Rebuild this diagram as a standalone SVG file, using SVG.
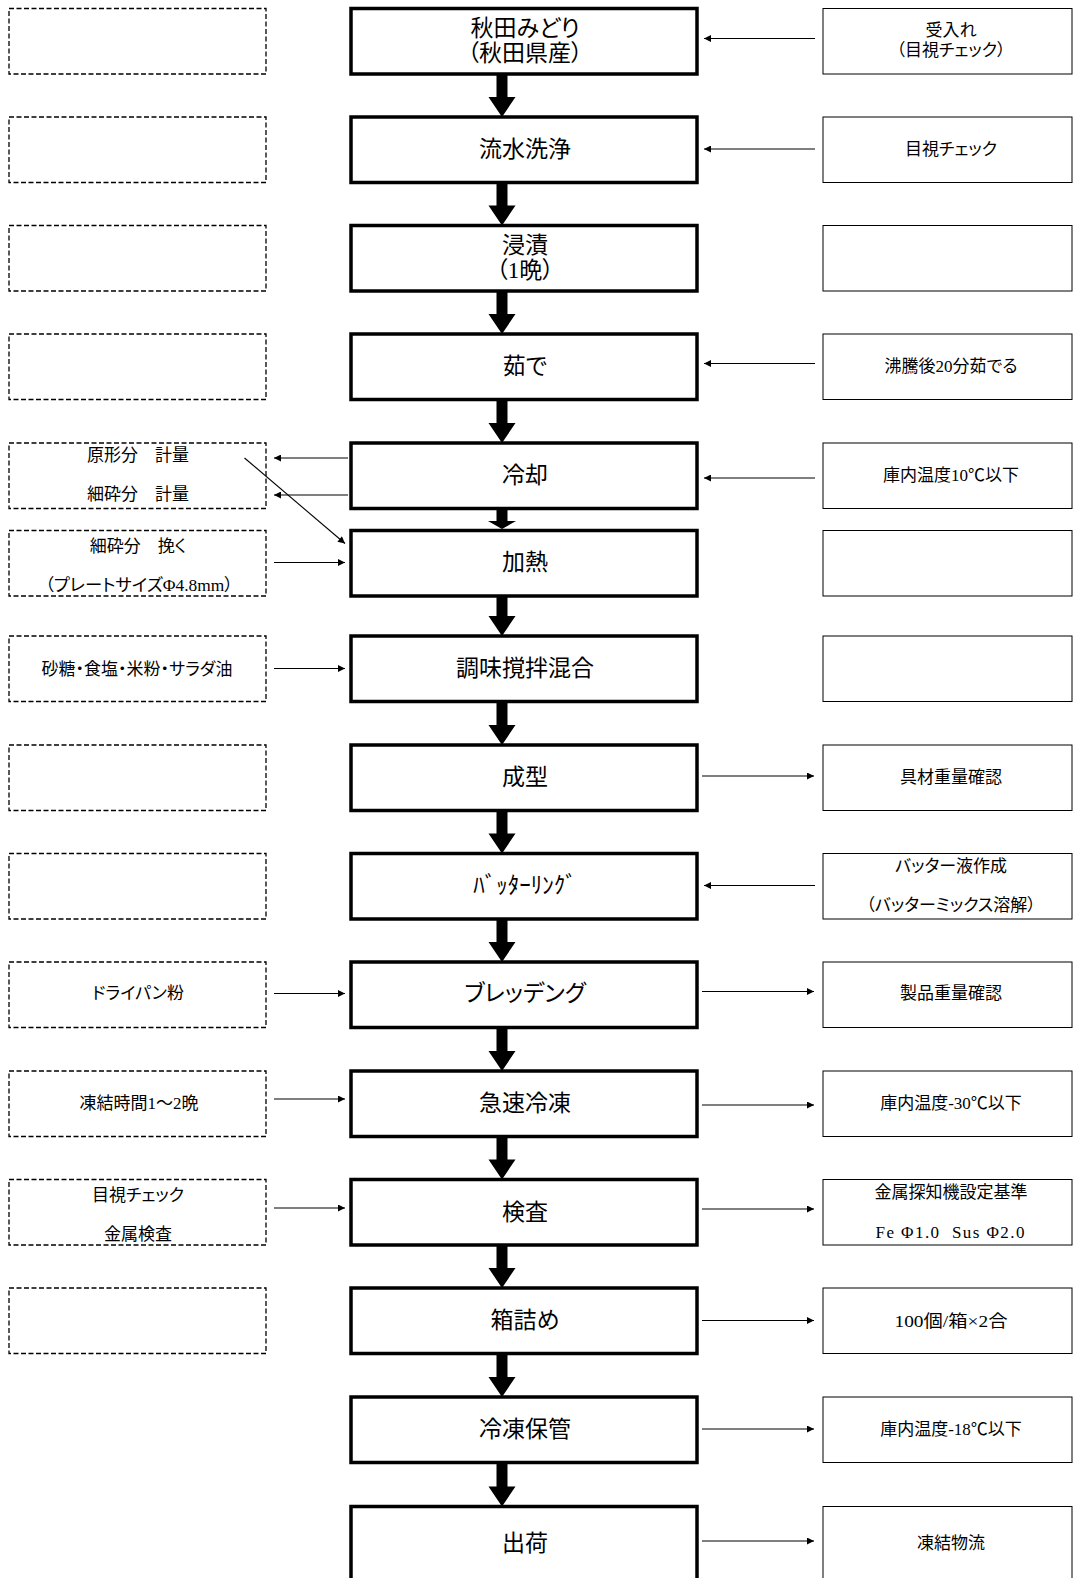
<svg xmlns="http://www.w3.org/2000/svg" width="1073" height="1578" viewBox="0 0 1073 1578">
<style>
text{font-family:"Liberation Serif","Noto Sans CJK JP",serif;fill:#000;text-anchor:middle;dominant-baseline:central;font-feature-settings:"palt"}
.m{font-size:23px}
.s{font-size:17px}
.mb{fill:#fff;stroke:#000;stroke-width:3.5}
.db{fill:#fff;stroke:#000;stroke-width:1.3;stroke-dasharray:5 2.5}
.rb{fill:#fff;stroke:#000;stroke-width:1}
.c line{stroke:#000;stroke-width:1.1;marker-end:url(#ah)}
.c polygon{fill:#000}
</style>
<defs>
<marker id="ah" viewBox="0 0 10 10" refX="10" refY="5" markerWidth="8" markerHeight="7" markerUnits="userSpaceOnUse" orient="auto"><path d="M0,0 L10,5 L0,10 z" fill="#000"/></marker>
</defs>
<rect width="1073" height="1578" fill="#fff"/>

<!-- left dashed boxes -->
<g id="left">
<g id="L1"><rect class="db" x="9" y="8.5" width="257" height="65.5"/></g>
<g id="L2"><rect class="db" x="9" y="117" width="257" height="65.5"/></g>
<g id="L3"><rect class="db" x="9" y="225.5" width="257" height="65.5"/></g>
<g id="L4"><rect class="db" x="9" y="334" width="257" height="65.5"/></g>
<g id="L5"><rect class="db" x="9" y="443" width="257" height="65.5"/><text class="s" x="138" y="455">原形分　計量</text><text class="s" x="138" y="494">細砕分　計量</text></g>
<g id="L6"><rect class="db" x="9" y="530.5" width="257" height="65.5"/><text class="s" x="138" y="546.5">細砕分　挽く</text><text class="s" x="139" y="585" textLength="188" lengthAdjust="spacingAndGlyphs">（プレートサイズΦ4.8mm）</text></g>
<g id="L7"><rect class="db" x="9" y="636" width="257" height="65.5"/><text class="s" x="137" y="669">砂糖・食塩・米粉・サラダ油</text></g>
<g id="L8"><rect class="db" x="9" y="745" width="257" height="65.5"/></g>
<g id="L9"><rect class="db" x="9" y="853.5" width="257" height="65.5"/></g>
<g id="L10"><rect class="db" x="9" y="962" width="257" height="65.5"/><text class="s" x="138" y="993">ドライパン粉</text></g>
<g id="L11"><rect class="db" x="9" y="1071" width="257" height="65.5"/><text class="s" x="139" y="1103">凍結時間1～2晩</text></g>
<g id="L12"><rect class="db" x="9" y="1179.5" width="257" height="65.5"/><text class="s" x="138" y="1195">目視チェック</text><text class="s" x="138" y="1234">金属検査</text></g>
<g id="L13"><rect class="db" x="9" y="1288" width="257" height="65.5"/></g>
</g>

<!-- main process boxes -->
<g id="main">
<g id="M1"><rect class="mb" x="351" y="8.5" width="346" height="65.5"/><text class="m" x="525" y="28">秋田みどり</text><text class="m" x="525" y="53.5">（秋田県産）</text></g>
<g id="M2"><rect class="mb" x="351" y="117" width="346" height="65.5"/><text class="m" x="525" y="149">流水洗浄</text></g>
<g id="M3"><rect class="mb" x="351" y="225.5" width="346" height="65.5"/><text class="m" x="525" y="245.5">浸漬</text><text class="m" x="525" y="270.5">（1晩）</text></g>
<g id="M4"><rect class="mb" x="351" y="334" width="346" height="65.5"/><text class="m" x="525" y="366.5">茹で</text></g>
<g id="M5"><rect class="mb" x="351" y="443" width="346" height="65.5"/><text class="m" x="525" y="475">冷却</text></g>
<g id="M6"><rect class="mb" x="351" y="530.5" width="346" height="65.5"/><text class="m" x="525" y="562.5">加熱</text></g>
<g id="M7"><rect class="mb" x="351" y="636" width="346" height="65.5"/><text class="m" x="525" y="668.5">調味撹拌混合</text></g>
<g id="M8"><rect class="mb" x="351" y="745" width="346" height="65.5"/><text class="m" x="525" y="777">成型</text></g>
<g id="M9"><rect class="mb" x="351" y="853.5" width="346" height="65.5"/><text class="m" x="525" y="885.5">ﾊﾞｯﾀｰﾘﾝｸﾞ</text></g>
<g id="M10"><rect class="mb" x="351" y="962" width="346" height="65.5"/><text class="m" x="525" y="993.5">ブレッデング</text></g>
<g id="M11"><rect class="mb" x="351" y="1071" width="346" height="65.5"/><text class="m" x="525" y="1103">急速冷凍</text></g>
<g id="M12"><rect class="mb" x="351" y="1179.5" width="346" height="65.5"/><text class="m" x="525" y="1212">検査</text></g>
<g id="M13"><rect class="mb" x="351" y="1288" width="346" height="65.5"/><text class="m" x="525" y="1320.5">箱詰め</text></g>
<g id="M14"><rect class="mb" x="351" y="1397" width="346" height="65.5"/><text class="m" x="525" y="1429">冷凍保管</text></g>
<g id="M15"><rect class="mb" x="351" y="1506.5" width="346" height="85"/><text class="m" x="525" y="1543">出荷</text></g>
</g>

<!-- right boxes -->
<g id="right">
<g id="R1"><rect class="rb" x="823" y="8.5" width="249" height="65.5"/><text class="s" x="951" y="30">受入れ</text><text class="s" x="951" y="50.5">（目視チェック）</text></g>
<g id="R2"><rect class="rb" x="823" y="117" width="249" height="65.5"/><text class="s" x="951" y="149">目視チェック</text></g>
<g id="R3"><rect class="rb" x="823" y="225.5" width="249" height="65.5"/></g>
<g id="R4"><rect class="rb" x="823" y="334" width="249" height="65.5"/><text class="s" x="951" y="366.5">沸騰後20分茹でる</text></g>
<g id="R5"><rect class="rb" x="823" y="443" width="249" height="65.5"/><text class="s" x="951" y="475">庫内温度10℃以下</text></g>
<g id="R6"><rect class="rb" x="823" y="530.5" width="249" height="65.5"/></g>
<g id="R7"><rect class="rb" x="823" y="636" width="249" height="65.5"/></g>
<g id="R8"><rect class="rb" x="823" y="745" width="249" height="65.5"/><text class="s" x="951" y="777">具材重量確認</text></g>
<g id="R9"><rect class="rb" x="823" y="853.5" width="249" height="65.5"/><text class="s" x="951" y="866.5">バッター液作成</text><text class="s" x="951" y="905">（バッターミックス溶解）</text></g>
<g id="R10"><rect class="rb" x="823" y="962" width="249" height="65.5"/><text class="s" x="951" y="993.5">製品重量確認</text></g>
<g id="R11"><rect class="rb" x="823" y="1071" width="249" height="65.5"/><text class="s" x="951" y="1103">庫内温度-30℃以下</text></g>
<g id="R12"><rect class="rb" x="823" y="1179.5" width="249" height="65.5"/><text class="s" x="951" y="1192.5">金属探知機設定基準</text><text class="s" x="950" y="1232" xml:space="preserve" textLength="149" lengthAdjust="spacing">Fe Φ1.0  Sus Φ2.0</text></g>
<g id="R13"><rect class="rb" x="823" y="1288" width="249" height="65.5"/><text class="s" x="951" y="1321.5" textLength="113" lengthAdjust="spacingAndGlyphs">100個/箱×2合</text></g>
<g id="R14"><rect class="rb" x="823" y="1397" width="249" height="65.5"/><text class="s" x="951" y="1429">庫内温度-18℃以下</text></g>
<g id="R15"><rect class="rb" x="823" y="1506.5" width="249" height="85"/><text class="s" x="951" y="1543">凍結物流</text></g>
</g>

<!-- connectors -->
<g id="connectors" class="c">
<polygon points="496.5,74 507.5,74 507.5,97 515.5,97 502,117 488.5,97 496.5,97"/>
<polygon points="496.5,182.5 507.5,182.5 507.5,205.5 515.5,205.5 502,225.5 488.5,205.5 496.5,205.5"/>
<polygon points="496.5,291 507.5,291 507.5,314 515.5,314 502,334 488.5,314 496.5,314"/>
<polygon points="496.5,399.5 507.5,399.5 507.5,423 515.5,423 502,443 488.5,423 496.5,423"/>
<polygon points="496.5,508.5 507.5,508.5 507.5,521 516,521 502,529 488,521 496.5,521"/>
<polygon points="496.5,596 507.5,596 507.5,616 515.5,616 502,636 488.5,616 496.5,616"/>
<polygon points="496.5,701.5 507.5,701.5 507.5,725 515.5,725 502,745 488.5,725 496.5,725"/>
<polygon points="496.5,810.5 507.5,810.5 507.5,833.5 515.5,833.5 502,853.5 488.5,833.5 496.5,833.5"/>
<polygon points="496.5,919 507.5,919 507.5,942 515.5,942 502,962 488.5,942 496.5,942"/>
<polygon points="496.5,1027.5 507.5,1027.5 507.5,1051 515.5,1051 502,1071 488.5,1051 496.5,1051"/>
<polygon points="496.5,1136.5 507.5,1136.5 507.5,1159.5 515.5,1159.5 502,1179.5 488.5,1159.5 496.5,1159.5"/>
<polygon points="496.5,1245 507.5,1245 507.5,1268 515.5,1268 502,1288 488.5,1268 496.5,1268"/>
<polygon points="496.5,1353.5 507.5,1353.5 507.5,1377 515.5,1377 502,1397 488.5,1377 496.5,1377"/>
<polygon points="496.5,1462.5 507.5,1462.5 507.5,1486.5 515.5,1486.5 502,1506.5 488.5,1486.5 496.5,1486.5"/>
<!-- right to main -->
<line x1="815" y1="38.5" x2="704" y2="38.5"/>
<line x1="815" y1="149" x2="704" y2="149"/>
<line x1="815" y1="363.5" x2="704" y2="363.5"/>
<line x1="815" y1="478" x2="704" y2="478"/>
<line x1="815" y1="885.5" x2="704" y2="885.5"/>
<!-- main to right -->
<line x1="702" y1="776" x2="814" y2="776"/>
<line x1="702" y1="991.5" x2="814" y2="991.5"/>
<line x1="702" y1="1105" x2="814" y2="1105"/>
<line x1="702" y1="1209" x2="814" y2="1209"/>
<line x1="702" y1="1320.5" x2="814" y2="1320.5"/>
<line x1="702" y1="1429" x2="814" y2="1429"/>
<line x1="702" y1="1541" x2="814" y2="1541"/>
<!-- main to left -->
<line x1="348" y1="458" x2="274" y2="458"/>
<line x1="348" y1="495" x2="274" y2="495"/>
<!-- left to main -->
<line x1="274" y1="562.5" x2="345" y2="562.5"/>
<line x1="274" y1="668.5" x2="345" y2="668.5"/>
<line x1="274" y1="993.5" x2="345" y2="993.5"/>
<line x1="274" y1="1099" x2="345" y2="1099"/>
<line x1="274" y1="1208" x2="345" y2="1208"/>
<!-- diagonal -->
<line x1="244.5" y1="458" x2="345" y2="543.5"/>
</g>
</svg>
